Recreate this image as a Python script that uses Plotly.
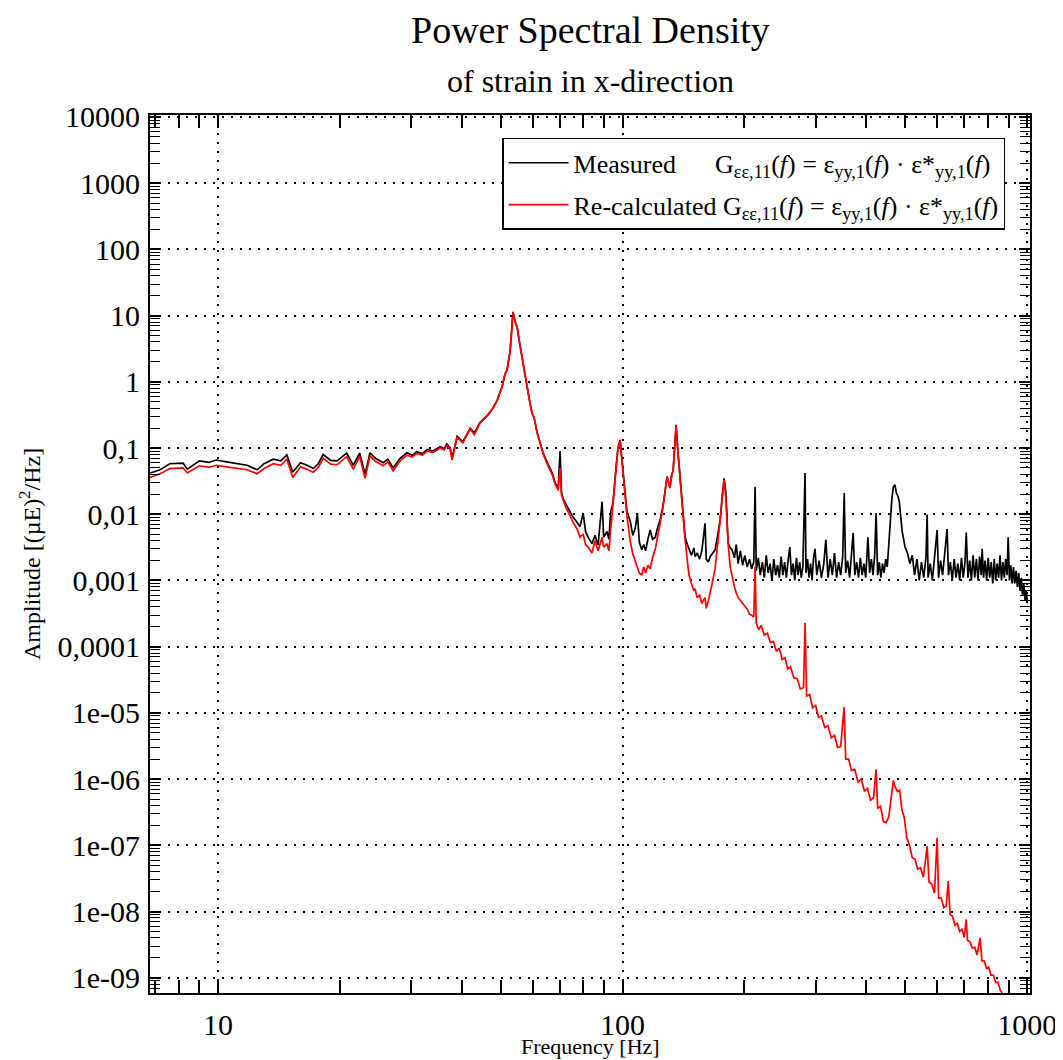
import plotly.graph_objects as go

# ------------- Data -------------

measured_freq = [
    6.8, 7.2, 7.6, 8.2, 8.4, 8.8, 9.0, 9.5, 9.9, 10.5, 11.1, 11.8, 12.5, 13.0, 13.7,
    14.3, 14.8, 15.3, 16.0, 16.6, 17.2, 17.7, 18.2, 19.0, 19.7, 20.3, 20.8, 21.6,
    22.4, 23.1, 23.75, 24.5, 25.6, 26.3, 27.1, 28.2, 29.3, 30.2, 31.0, 32.0, 32.9,
    34.0, 35.4, 36.2, 36.8, 37.5, 37.9, 39.0, 40.3, 42.0, 43.0, 44.4, 45.5, 46.5,
    47.8, 49.0, 50.4, 51.2, 51.8, 52.7, 53.2, 53.6, 54.3, 54.9, 55.6, 56.4, 57.2,
    58.1, 58.8, 59.7, 60.5, 61.5, 62.5, 63.6, 64.8, 66.2, 67.2, 68.1, 69.3,
    70.07, 70.6, 71.3, 72.5, 74.2, 75.5, 77.2, 78.5, 79.9, 81.0, 82.2, 84.0, 85.5,
    87.0, 88.99, 89.8, 91.5, 92.5, 93.5, 94.7, 96.0, 97.4, 98.6,
    100.3, 101.4, 102.5, 104.4, 106.0, 107.5, 108.8, 110.0, 111.5, 112.8, 114.0,
    115.5, 117.0, 118.6, 120.5, 122.0, 124.0, 126.0, 128.8, 130.0, 131.0, 132.3,
    133.3, 134.5, 135.6, 137.0, 138.7, 140.5, 142.7, 144.3, 146.0, 148.0, 150.0,
    151.1, 153.0, 155.0, 157.0, 159.9, 161.0, 163.0, 164.6, 166.5, 169.3, 171.5,
    174.2, 176.5, 178.2, 180.0, 182.3, 184.5, 186.5, 189.0, 191.0, 193.0, 195.5,
    198.0, 200.5, 203.2, 206.0, 208.5, 211.0, 212.6,
    214, 216.5, 219, 221.5, 224, 226.5, 229, 231.5, 234, 236.5, 239, 241.5, 244,
    246.5, 249, 251.5, 254, 256.5, 259, 261.5, 264, 266.5, 269, 271.5, 274, 276.5,
    279, 282.5, 284, 286.5, 289, 291.5, 294, 296.5, 299,
    302, 306, 310, 314, 318, 322, 326, 330, 334, 338, 342, 346, 350, 353, 356, 360,
    364, 368, 371.5, 375, 379, 383, 387, 391, 395, 399, 404, 408, 412, 416, 420,
    423.3, 427, 431, 435, 439, 443, 447, 451, 455, 459, 463, 467, 471, 475, 479,
    483, 487, 491, 495, 499,
    506, 513, 520, 527, 534, 541, 548, 555, 562, 566, 569, 576, 583, 590, 599, 604,
    611, 618, 625, 634, 639, 646, 653, 660, 667, 674, 681, 688, 695, 702, 707, 714,
    721, 728, 735, 742, 749, 756, 763, 770, 774, 780, 787, 794, 801, 808, 815, 822,
    829, 836, 843, 850, 857, 864, 871, 878, 885, 892, 897.5, 904, 911, 918, 925,
    932, 939, 946, 953, 960, 967, 974, 981, 988, 995, 1002,
]
measured_psd = [
    0.042, 0.047, 0.058, 0.059, 0.048, 0.058, 0.064, 0.061, 0.066, 0.062, 0.059,
    0.055, 0.047, 0.058, 0.068, 0.064, 0.079, 0.043, 0.06, 0.055, 0.049, 0.058,
    0.08, 0.065, 0.064, 0.075, 0.084, 0.055, 0.084, 0.04, 0.085, 0.07, 0.06, 0.068,
    0.05, 0.07, 0.085, 0.078, 0.088, 0.082, 0.095, 0.09, 0.105, 0.098, 0.115, 0.1,
    0.07, 0.15, 0.125, 0.2, 0.17, 0.24, 0.28, 0.32, 0.4, 0.53, 0.85, 1.3, 1.5, 2.8,
    6.0, 11.4, 8.0, 6.7, 4.0, 2.4, 1.3, 0.76, 0.55, 0.34, 0.28, 0.17, 0.12, 0.085,
    0.065, 0.047, 0.04, 0.03, 0.024,
    0.09, 0.022, 0.017, 0.014, 0.011, 0.009, 0.0075, 0.0065, 0.0104, 0.0055,
    0.0045, 0.0036, 0.0048, 0.0034, 0.0155, 0.0045, 0.0055, 0.0042, 0.011, 0.0148,
    0.04, 0.1, 0.133,
    0.04, 0.021, 0.011, 0.008, 0.0048, 0.0062, 0.0104, 0.0038, 0.0029, 0.0035,
    0.0028, 0.0042, 0.0058, 0.0042, 0.0045, 0.0062, 0.0085, 0.014, 0.037, 0.03,
    0.025, 0.04, 0.045, 0.1, 0.224, 0.09, 0.037, 0.012, 0.0046, 0.0036, 0.0029,
    0.0024, 0.0031, 0.0023, 0.0026, 0.0021, 0.0028, 0.0073, 0.0021, 0.0019,
    0.0023, 0.0025, 0.0029, 0.0045, 0.0081, 0.02, 0.035, 0.022, 0.0037, 0.0031,
    0.0029, 0.0022, 0.0035, 0.0018, 0.0028, 0.0017, 0.0024, 0.0016, 0.0021,
    0.0015, 0.0019, 0.026,
    0.0014, 0.0022, 0.0012, 0.0019, 0.0011, 0.0024, 0.0013, 0.0018, 0.0010,
    0.0021, 0.0012, 0.0017, 0.0011, 0.0023, 0.0012, 0.0019, 0.0011, 0.0020,
    0.0032, 0.0012, 0.0018, 0.0010, 0.0022, 0.0012, 0.0019, 0.0011, 0.0016, 0.042,
    0.0013, 0.0021, 0.0011, 0.0018, 0.0010, 0.0022, 0.0030,
    0.0012, 0.0020, 0.0011, 0.0017, 0.0041, 0.0011, 0.0021, 0.0012, 0.0026,
    0.0011, 0.0019, 0.0012, 0.0023, 0.021, 0.0013, 0.0020, 0.0011, 0.0024, 0.0052,
    0.0012, 0.0019, 0.0011, 0.0022, 0.0012, 0.0018, 0.0011, 0.0045, 0.0013,
    0.0021, 0.0012, 0.0025, 0.0104, 0.0012, 0.0019, 0.0011, 0.0018, 0.0013,
    0.0021, 0.0016, 0.0035, 0.008, 0.017, 0.026, 0.028, 0.021, 0.019, 0.0155,
    0.009, 0.0055, 0.0042, 0.0032,
    0.0026, 0.0018, 0.0024, 0.0012, 0.0021, 0.0010, 0.0019, 0.0011, 0.0022,
    0.0099, 0.0011, 0.0018, 0.0010, 0.0024, 0.0058, 0.0011, 0.0020, 0.0012,
    0.0026, 0.006, 0.0012, 0.0019, 0.0010, 0.0021, 0.0011, 0.0018, 0.0010, 0.0022,
    0.0011, 0.0019, 0.0053, 0.0011, 0.0020, 0.0010, 0.0024, 0.0011, 0.0021,
    0.0010, 0.0023, 0.0012, 0.0030, 0.0011, 0.0020, 0.0010, 0.0022, 0.0011,
    0.0019, 0.0009, 0.0021, 0.0010, 0.0018, 0.0011, 0.0024, 0.0010, 0.0019,
    0.0011, 0.0021, 0.0012, 0.0045, 0.0010, 0.0017, 0.0009, 0.0016, 0.0009,
    0.0014, 0.0008, 0.0013, 0.0007, 0.0011, 0.0006, 0.0009, 0.0005, 0.0007,
    0.00045,
]

recalc_freq = [
    6.8, 7.2, 7.6, 8.2, 8.4, 8.8, 9.0, 9.5, 9.9, 10.5, 11.1, 11.8, 12.5, 13.0, 13.7,
    14.3, 14.8, 15.3, 16.0, 16.6, 17.2, 17.7, 18.2, 19.0, 19.7, 20.3, 20.8, 21.6,
    22.4, 23.1, 23.75, 24.5, 25.6, 26.3, 27.1, 28.2, 29.3, 30.2, 31.0, 32.0, 32.9,
    34.0, 35.4, 36.2, 36.8, 37.5, 37.9, 39.0, 40.3, 42.0, 43.0, 44.4, 45.5, 46.5,
    47.8, 49.0, 50.4, 51.2, 51.8, 52.7, 53.2, 53.6, 54.3, 54.9, 55.6, 56.4, 57.2,
    58.1, 58.8, 59.7, 60.5, 61.5, 62.5, 63.6, 64.8, 66.2, 67.2, 68.1, 69.3,
    70.07, 70.6, 71.3, 72.5, 74.2, 75.5, 77.2, 78.5, 79.9, 81.0, 82.2, 84.0, 85.5,
    87.0, 88.99, 89.8, 91.5, 92.5, 93.5, 94.7, 96.0, 97.4, 98.6,
    100.3, 101.4, 102.5, 104.4, 106.0, 107.5, 108.8, 110.0, 111.5, 112.8, 114.0,
    115.5, 117.0, 118.6, 120.5, 122.0, 124.0, 126.0, 128.8, 130.0, 131.0, 132.3,
    133.3, 134.5, 135.6, 137.0, 138.7, 140.5, 142.7, 144.3, 146.0, 148.0, 150.0,
    151.1, 152.8, 155.0, 157.0, 159.9, 161.0, 163.0, 164.6, 166.5, 169.3, 171.5,
    174.2, 176.5, 178.2, 180.0, 182.3, 184.5, 186.5, 189.0, 191.0, 193.0, 195.5,
    198.0, 200.5, 203.2, 206.0, 208.5, 211.0, 212.6,
    214, 217, 220, 224, 228, 232, 236, 240, 244, 248, 252, 256, 260, 265, 270, 275,
    280, 282.6, 285, 290, 295, 300, 305, 310, 316, 322, 328, 334, 340, 346, 352.8,
    356, 362, 368, 375, 382, 389, 396, 403, 410, 417, 423.3, 427, 434, 441, 448,
    455, 462, 467, 472, 478, 484, 490, 497, 504, 512, 520, 528, 536, 545, 554, 566,
    572, 581, 590, 599, 604, 613, 622, 631, 638, 645, 654, 663, 672, 681, 690, 699,
    707, 712, 722, 732, 742, 752, 765, 773, 783, 793, 803, 814, 825, 836, 847, 858,
    867,
]
recalc_psd = [
    0.036, 0.041, 0.049, 0.05, 0.042, 0.049, 0.054, 0.051, 0.055, 0.052, 0.05,
    0.047, 0.041, 0.049, 0.058, 0.055, 0.068, 0.036, 0.052, 0.048, 0.043, 0.051,
    0.07, 0.057, 0.056, 0.066, 0.074, 0.048, 0.075, 0.035, 0.076, 0.063, 0.054,
    0.062, 0.045, 0.064, 0.078, 0.073, 0.083, 0.078, 0.09, 0.086, 0.1, 0.094, 0.11,
    0.097, 0.066, 0.145, 0.12, 0.195, 0.16, 0.235, 0.275, 0.315, 0.4, 0.53, 0.85,
    1.3, 1.5, 2.8, 6.0, 11.2, 8.0, 6.7, 4.0, 2.4, 1.3, 0.76, 0.55, 0.34, 0.28, 0.17,
    0.12, 0.083, 0.062, 0.045, 0.038, 0.029, 0.023,
    0.05, 0.02, 0.0166, 0.0125, 0.0095, 0.0075, 0.006, 0.0045, 0.005, 0.0035,
    0.0032, 0.0026, 0.004, 0.0028, 0.0045, 0.0032, 0.0036, 0.0028, 0.006, 0.0148,
    0.04, 0.1, 0.13,
    0.035, 0.02, 0.0095, 0.004, 0.0025, 0.0019, 0.0016, 0.0013, 0.0012, 0.0016,
    0.0013, 0.0017, 0.0015, 0.0022, 0.003, 0.0045, 0.0078, 0.013, 0.037, 0.03,
    0.025, 0.04, 0.045, 0.1, 0.22, 0.09, 0.035, 0.01, 0.0042, 0.0022, 0.0012,
    0.0009, 0.0007, 0.00075, 0.00055, 0.0006, 0.00045, 0.00055, 0.00038, 0.0005,
    0.0007, 0.0009, 0.0015, 0.003, 0.0081, 0.018, 0.033, 0.018, 0.0037, 0.0016,
    0.0011, 0.0008, 0.00065, 0.00055, 0.0005, 0.00045, 0.0004, 0.00037, 0.00031,
    0.0003, 0.00028, 0.0016,
    2.3e-4, 1.8e-4, 2.1e-4, 1.5e-4, 1.6e-4, 1.15e-4, 1.2e-4, 8.5e-5, 9.5e-5,
    6.4e-5, 6.8e-5, 4.6e-5, 5.0e-5, 3.4e-5, 3.3e-5, 2.3e-5, 2.4e-5, 2.3e-4,
    1.8e-5, 1.9e-5, 1.2e-5, 1.3e-5, 8.6e-6, 9.0e-6, 6.0e-6, 6.4e-6, 4.2e-6,
    4.6e-6, 3.0e-6, 3.1e-6, 1.23e-5, 2.0e-6, 2.0e-6, 1.35e-6, 1.4e-6, 9.0e-7,
    1.0e-6, 6.6e-7, 7.2e-7, 4.8e-7, 5.2e-7, 1.4e-6, 3.6e-7, 3.9e-7, 2.3e-7,
    2.2e-7, 2.7e-7, 5.5e-7, 9.5e-7, 7.5e-7, 6.5e-7, 6.8e-7, 3.5e-7, 2.6e-7,
    1.3e-7, 1.0e-7, 6.5e-8, 6.2e-8, 4.4e-8, 4.6e-8, 3.3e-8, 9.7e-8, 2.8e-8,
    2.6e-8, 1.9e-8, 1.3e-7, 1.6e-8, 1.6e-8, 1.15e-8, 1.2e-8, 2.9e-8, 9.0e-9,
    8.5e-9, 6.2e-9, 6.6e-9, 5.0e-9, 5.4e-9, 4.1e-9, 7.6e-9, 3.7e-9, 3.5e-9,
    2.8e-9, 2.9e-9, 2.2e-9, 4.0e-9, 1.8e-9, 1.8e-9, 1.4e-9, 1.45e-9, 1.1e-9,
    1.1e-9, 8.5e-10, 8.5e-10, 6.5e-10, 5.9e-10,
]

y_tick_vals = [1e4, 1e3, 1e2, 1e1, 1, 1e-1, 1e-2, 1e-3, 1e-4, 1e-5, 1e-6, 1e-7, 1e-8, 1e-9]
y_tick_text = ["10000", "1000", "100", "10", "1", "0,1", "0,01", "0,001", "0,0001",
               "1e-05", "1e-06", "1e-07", "1e-08", "1e-09"]
x_tick_vals = [10, 100, 1000]
x_tick_text = ["10", "100", "1000"]

assert len(measured_freq) == len(measured_psd)
assert len(recalc_freq) == len(recalc_psd)

FONT = "Liberation Serif"
formula = ("G<sub>εε,11</sub>(<i>f</i>) = ε<sub>yy,1</sub>(<i>f</i>) · "
           "ε*<sub>yy,1</sub>(<i>f</i>)")

# ------------- Figure -------------
# the page body has an 8px margin, so the figure is 8px smaller than the window

fig = go.Figure()
fig.add_trace(go.Scatter(
    x=measured_freq, y=measured_psd, mode="lines",
    line=dict(color="black", width=1.7),
    name="Measured" + "\u00a0" * 6 + formula, legendgroup="m",
))
fig.add_trace(go.Scatter(
    x=recalc_freq, y=recalc_psd, mode="lines",
    line=dict(color="#ff0000", width=1.7),
    name="Re-calculated " + formula, legendgroup="r",
))

axis_common = dict(
    showline=True, linecolor="black", linewidth=2, mirror="ticks",
    ticks="inside", tickcolor="black", tickwidth=1.5,
    showgrid=True, gridcolor="black", gridwidth=1.5, griddash="2px,7px",
    zeroline=False, automargin=False,
    tickfont=dict(family=FONT, size=30, color="black"),
)

fig.update_xaxes(
    type="log", range=[0.832, 3.007],
    tickmode="array", tickvals=x_tick_vals, ticktext=x_tick_text, ticklen=13,
    ticklabelstandoff=4,
    minor=dict(dtick="D1", ticks="inside", ticklen=13, tickcolor="black",
               tickwidth=1.5, showgrid=False),
    **axis_common,
)
fig.update_yaxes(
    type="log", range=[-9.23, 4.03],
    tickmode="array", tickvals=y_tick_vals, ticktext=y_tick_text, ticklen=11,
    ticklabelstandoff=2,
    minor=dict(dtick="D1", ticks="inside", ticklen=10, tickcolor="black",
               tickwidth=1.2, showgrid=False),
    **axis_common,
)

fig.update_layout(
    width=1055, height=1052,
    margin=dict(l=142, r=33, t=107, b=67),
    paper_bgcolor="white", plot_bgcolor="white",
    font=dict(family=FONT, color="black"),
    showlegend=True,
    legend=dict(
        x=0.9716, y=0.974, xanchor="right", yanchor="top",
        bgcolor="white", bordercolor="black", borderwidth=1.5,
        font=dict(family=FONT, size=26, color="black"),
        tracegroupgap=5, itemwidth=60,
    ),
    annotations=[
        dict(text="Power Spectral Density", xref="paper", yref="paper",
             x=0.5, y=1, yshift=85, yanchor="middle", showarrow=False,
             font=dict(family=FONT, size=38, color="black")),
        dict(text="of strain in x-direction", xref="paper", yref="paper",
             x=0.5, y=1, yshift=34, yanchor="middle", showarrow=False,
             font=dict(family=FONT, size=32, color="black")),
        dict(text="Frequency [Hz]", xref="paper", yref="paper",
             x=0.5, y=0, yshift=-53, yanchor="middle", showarrow=False,
             font=dict(family=FONT, size=22, color="black")),
        dict(text="Amplitude [(µE)<sup>2</sup>/Hz]", xref="paper", yref="paper",
             x=0, y=0.5, xshift=-120, xanchor="center", yanchor="middle",
             textangle=-90, showarrow=False,
             font=dict(family=FONT, size=24, color="black")),
    ],
)

fig.write_html("out.html")
